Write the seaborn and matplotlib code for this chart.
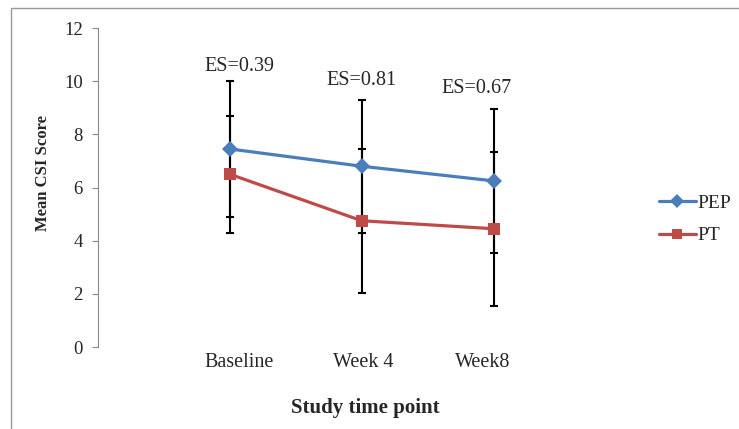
import numpy as np
import pandas as pd
import seaborn as sns
import matplotlib.pyplot as plt
from matplotlib.patches import Rectangle

# data
time_points = ["Baseline", "Week 4", "Week8"]
pep_mean = [7.45, 6.8, 6.25]
pep_sd = [2.55, 2.5, 2.7]
pt_mean = [6.5, 4.75, 4.45]
pt_sd = [2.2, 2.7, 2.9]
es_labels = ["ES=0.39", "ES=0.81", "ES=0.67"]
es_y = [10.2, 9.65, 9.35]
es_x = [0.07, 1, 1.87]
label_x = [0.07, 1.015, 1.917]  # category labels sit a bit off the points in the original

sns.set_style("white")
plt.rcParams['font.family'] = ['Liberation Serif', 'DejaVu Serif']

df = pd.DataFrame({
    "x": list(range(3)) * 2,
    "score": pep_mean + pt_mean,
    "sd": pep_sd + pt_sd,
    "group": ["PEP"] * 3 + ["PT"] * 3,
})

fig = plt.figure(figsize=(7.39, 4.29), dpi=100)
ax = fig.add_axes([0.1326, 0.1911, 0.7226, 0.7436])

# error bars drawn first so markers sit on top
for g in ["PEP", "PT"]:
    d = df[df.group == g]
    ax.errorbar(d.x, d.score, yerr=d.sd, fmt="none", ecolor="black",
                elinewidth=1.5, capsize=3, capthick=1.5, zorder=1)

sns.lineplot(data=df, x="x", y="score", hue="group", style="group",
             markers={"PEP": "D", "PT": "s"}, dashes=False,
             palette={"PEP": "#4a7ebb", "PT": "#be4b48"},
             linewidth=2.3, markersize=8.5, markeredgewidth=0, ax=ax, zorder=3)

for i, lab in enumerate(es_labels):
    ax.text(es_x[i], es_y[i], lab, ha="center", va="bottom", fontsize=14.5)

ax.set_xlim(-1.0, 3.05)
ax.set_ylim(0, 12)
ax.set_yticks(range(0, 13, 2))
ax.set_xticks(label_x)
ax.set_xticklabels(time_points, fontsize=14.5)
ax.tick_params(axis="y", labelsize=13.5, length=4, width=0.8, color="#888888", direction="out", left=True, pad=7)
ax.tick_params(axis="x", length=0, pad=4)
ax.set_xlabel("Study time point", fontsize=15, fontweight="bold", labelpad=19)
ax.set_ylabel("Mean CSI Score", fontsize=12, fontweight="bold")
ax.yaxis.set_label_coords(-0.088, 0.545)

for s in ["top", "right", "bottom"]:
    ax.spines[s].set_visible(False)
ax.spines["left"].set_color("#888888")
ax.spines["left"].set_linewidth(0.8)

h, l = ax.get_legend_handles_labels()
ax.legend(h, l, loc="center left", bbox_to_anchor=(1.05, 0.40), frameon=False,
          fontsize=14, handlelength=1.9, labelspacing=0.75, handletextpad=0.1,
          borderpad=0, borderaxespad=0, markerscale=0.85)

fig.patches.append(Rectangle((11 / 739, -0.01), 1.1, 1 - 8 / 429 + 0.01, transform=fig.transFigure,
                             fill=False, edgecolor="#999999", linewidth=1.0))

fig.savefig("out.png", dpi=100)
